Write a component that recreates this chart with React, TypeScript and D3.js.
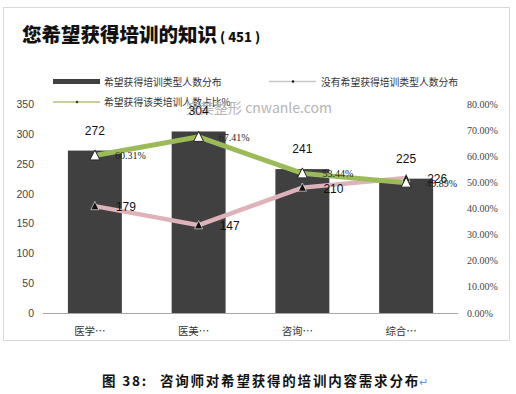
import * as d3 from "d3";

// 数据
const categories = ["医学…", "医美…", "咨询…", "综合…"];
const wantCounts = [272, 304, 241, 225]; // 希望获得培训类型人数分布
const notWantCounts = [179, 147, 210, 226]; // 没有希望获得培训类型人数分布
const wantRatio = [0.6031, 0.6741, 0.5344, 0.4989]; // 希望获得该类培训人数占比%
const leftTicks = [0, 50, 100, 150, 200, 250, 300, 350];
const rightTicks = [0, 0.1, 0.2, 0.3, 0.4, 0.5, 0.6, 0.7, 0.8];

const W = 516;
const H = 394;
const cjk = "'Noto Sans CJK SC', 'Noto Sans', sans-serif";
const serif = "'Liberation Serif', 'DejaVu Serif', serif";

const tri = (size: number) => {
  const h = size * 0.9;
  return `M0,${-h / 2 - 1} L${size / 2},${h / 2} L${-size / 2},${h / 2} Z`;
};

export default function App() {
  const plot = { left: 43, right: 458, top: 104, bottom: 313 };

  const x = d3
    .scaleBand<string>()
    .domain(categories)
    .range([plot.left, plot.right])
    .paddingInner(0.48)
    .paddingOuter(0.24);
  const yL = d3.scaleLinear().domain([0, 350]).range([plot.bottom, plot.top]);
  const yR = d3.scaleLinear().domain([0, 0.8]).range([plot.bottom, plot.top]);
  const cx = (c: string) => (x(c) ?? 0) + x.bandwidth() / 2;

  const pinkLine = d3
    .line<number>()
    .x((_, i) => cx(categories[i]))
    .y((d) => yL(d));
  const greenLine = d3
    .line<number>()
    .x((_, i) => cx(categories[i]))
    .y((d) => yR(d));

  return (
    <svg
      width={W}
      height={H}
      style={{ position: "absolute", left: 0, top: 0, display: "block", background: "#fff" }}
    >
      {/* 外框 */}
      <rect x={3.5} y={7.5} width={506} height={333} fill="#fff" stroke="#d9d9d9" />

      {/* 标题 */}
      <text x={22} y={42} fontFamily={cjk} fontSize={19.5} fontWeight={900} fill="#111">
        您希望获得培训的知识
        <tspan fontSize={13} dx={3}>( 451 )</tspan>
      </text>

      {/* 图例 */}
      <g fontFamily={cjk} fontSize={9.8} fill="#333">
        <rect x={53} y={79} width={47} height={5} fill="#404040" />
        <text x={104} y={85.5}>希望获得培训类型人数分布</text>
        <line x1={269} x2={316} y1={81.5} y2={81.5} stroke="#c8c8c8" strokeWidth={1.5} />
        <circle cx={293} cy={81.5} r={1.2} fill="#111" />
        <text x={321} y={85.5}>没有希望获得培训类型人数分布</text>
        <line x1={53} x2={100} y1={102} y2={102} stroke="#b3c07a" strokeWidth={1.5} />
        <circle cx={77} cy={102} r={1.2} fill="#333" />
        <text x={104} y={105.5}>希望获得该类培训人数占比%</text>
      </g>

      {/* 水印 */}
      <text x={186} y={113} fontFamily={cjk} fontSize={14} fill="#b5b5b5">
        完美整形 cnwanle.com
      </text>

      {/* 左轴 */}
      <g fontFamily="'Liberation Sans', Arial, sans-serif" fontSize={10.5} fill="#444" textAnchor="end">
        {leftTicks.map((t) => (
          <text key={t} x={34} y={yL(t) + 4}>
            {t}
          </text>
        ))}
      </g>
      {/* 右轴 */}
      <g fontFamily={serif} fontSize={10} fill="#444">
        {rightTicks.map((t) => (
          <text key={t} x={467} y={yR(t) + 3.5}>
            {t === 0 ? "0.00%" : (t * 100).toFixed(2) + "%"}
          </text>
        ))}
      </g>

      {/* 柱子 */}
      {categories.map((c, i) => (
        <rect
          key={c}
          x={x(c)}
          y={yL(wantCounts[i])}
          width={x.bandwidth()}
          height={plot.bottom - yL(wantCounts[i])}
          fill="#404040"
        />
      ))}
      <line x1={plot.left} x2={plot.right} y1={plot.bottom + 0.5} y2={plot.bottom + 0.5} stroke="#a6a6a6" />

      {/* 分类标签 */}
      <g fontFamily={cjk} fontSize={10.5} fill="#333" textAnchor="middle">
        {categories.map((c) => (
          <text key={c} x={cx(c) - 5} y={335}>
            {c}
          </text>
        ))}
      </g>

      {/* 折线 */}
      <path d={pinkLine(notWantCounts) ?? ""} fill="none" stroke="#ddb3b9" strokeWidth={4.5} />
      <path d={greenLine(wantRatio) ?? ""} fill="none" stroke="#9bbb59" strokeWidth={5} />

      {notWantCounts.map((v, i) => (
        <path
          key={"p" + i}
          d={tri(8)}
          transform={`translate(${cx(categories[i])},${yL(v)})`}
          fill="#111"
          stroke="#fff"
          strokeWidth={0.6}
        />
      ))}
      {wantRatio.map((v, i) => (
        <path
          key={"g" + i}
          d={tri(10)}
          transform={`translate(${cx(categories[i])},${yR(v)})`}
          fill="#fff"
          stroke="#222"
          strokeWidth={1}
        />
      ))}

      {/* 数据标签 */}
      <g fontFamily="'Liberation Sans', Arial, sans-serif" fontSize={12} fill="#111">
        {wantCounts.map((v, i) => (
          <text key={"bl" + i} x={cx(categories[i])} y={yL(v) - 16} textAnchor="middle">
            {v}
          </text>
        ))}
        {notWantCounts.map((v, i) => (
          <text key={"nl" + i} x={cx(categories[i]) + 21} y={yL(v) + 5}>
            {v}
          </text>
        ))}
      </g>
      <g fontFamily={serif} fontSize={10} fill="#222">
        {wantRatio.map((v, i) => (
          <text key={"rl" + i} x={cx(categories[i]) + 20} y={yR(v) + 4}>
            {(v * 100).toFixed(2) + "%"}
          </text>
        ))}
      </g>

      {/* 图注 */}
      <text x={102} y={386} fontFamily={cjk} fontSize={13.5} fontWeight={700} fill="#111" letterSpacing={1.8}>
        图 38:
        <tspan dx={12}>咨询师对希望获得的培训内容需求分布</tspan>
        <tspan fill="#5b9bd5" fontWeight={400} fontSize={11} dx={-1}>↵</tspan>
      </text>
    </svg>
  );
}
